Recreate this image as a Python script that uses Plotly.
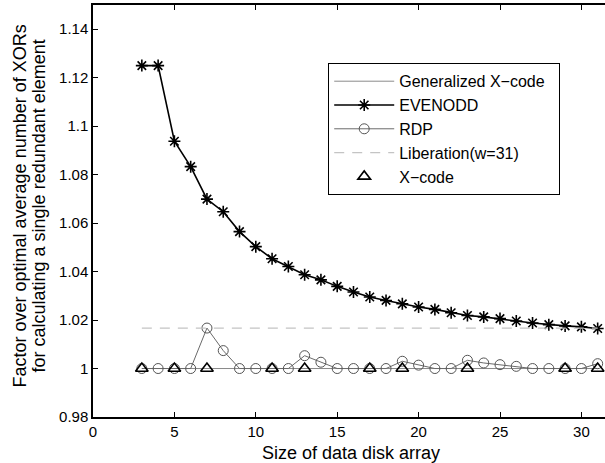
import plotly.graph_objects as go

x_sizes = list(range(3, 32))
evenodd = [1.125, 1.125, 1.0938, 1.0833, 1.0699, 1.0647, 1.0565, 1.0503, 1.0453,
           1.0421, 1.0387, 1.0366, 1.0339, 1.0316, 1.0295, 1.0281, 1.0267, 1.0254,
           1.0244, 1.0230, 1.0219, 1.0213, 1.0206, 1.0196, 1.0188, 1.0181, 1.0176,
           1.0172, 1.0165]
rdp = [1, 1, 1, 1, 1.0167, 1.0074, 1, 1, 1, 1, 1.0053, 1.0026, 1, 1, 1, 1,
       1.003, 1.0014, 1, 1, 1.0034, 1.0023, 1.0016, 1.0009, 1, 1, 1, 1, 1.002]
gen_xcode = [1.0] * len(x_sizes)
liberation = [1.0167] * len(x_sizes)
xcode_x = [3, 5, 7, 11, 13, 17, 19, 23, 29, 31]
xcode_y = [1, 1, 1, 1, 1, 1, 1, 1, 1, 1]

y_ticks = [0.98, 1.0, 1.02, 1.04, 1.06, 1.08, 1.1, 1.12, 1.14]
y_ticktext = ["0.98", "1", "1.02", "1.04", "1.06", "1.08", "1.1", "1.12", "1.14"]
x_ticks = [0, 5, 10, 15, 20, 25, 30]

FONT = "Liberation Sans, Arial, Helvetica, sans-serif"

fig = go.Figure()
fig.add_trace(go.Scatter(x=x_sizes, y=gen_xcode, mode="lines",
                         name="Generalized X\u2212code\u00a0\u00a0",
                         line=dict(color="#8a8a8a", width=1), legendgroup="a"))
fig.add_trace(go.Scatter(x=x_sizes, y=evenodd, mode="lines+markers", name="EVENODD",
                         line=dict(color="black", width=1.6),
                         marker=dict(symbol="asterisk-open", size=10, color="black",
                                     line=dict(color="black", width=1.6)), legendgroup="b"))
fig.add_trace(go.Scatter(x=x_sizes, y=rdp, mode="lines+markers", name="RDP",
                         line=dict(color="#6a6a6a", width=1),
                         marker=dict(symbol="circle-open", size=10, color="#555555",
                                     line=dict(color="#555555", width=1)), legendgroup="c"))
fig.add_trace(go.Scatter(x=x_sizes, y=liberation, mode="lines", name="Liberation(w=31)",
                         line=dict(color="#c4c4c4", width=1.2, dash="10px,8px"), legendgroup="d"))
fig.add_trace(go.Scatter(x=xcode_x, y=xcode_y, mode="markers", name="X\u2212code",
                         marker=dict(symbol="triangle-up-open", size=11, color="black",
                                     line=dict(color="black", width=1.6)), legendgroup="e"))

fig.update_layout(
    width=605, height=463,
    margin=dict(l=93, r=0, t=5, b=46, autoexpand=False),
    paper_bgcolor="white", plot_bgcolor="white",
    font=dict(family=FONT, color="black", size=14),
    showlegend=True,
    legend=dict(x=0.459, y=0.859, xanchor="left", yanchor="top",
                bgcolor="white", bordercolor="black", borderwidth=1.2,
                font=dict(size=16, family=FONT), tracegroupgap=0, itemwidth=60),
    xaxis=dict(range=[0, 31.45], tickvals=x_ticks, ticks="inside", ticklen=5,
               tickcolor="black", showline=True, linecolor="black", linewidth=1.5,
               mirror="ticks", showgrid=False, zeroline=False,
               tickfont=dict(size=15, family=FONT)),
    yaxis=dict(range=[0.98, 1.15], tickvals=y_ticks, ticktext=y_ticktext,
               ticks="inside", ticklen=5, tickcolor="black", showline=True,
               linecolor="black", linewidth=1.5, mirror=False, showgrid=False,
               zeroline=False, tickfont=dict(size=15, family=FONT)),
    annotations=[
        dict(text="Size of data disk array", xref="paper", yref="paper",
             x=0.504, y=0, yanchor="top", xanchor="center", yshift=-24,
             showarrow=False, font=dict(size=18, family=FONT)),
        dict(text="Factor over optimal average number of XORs", xref="paper", yref="paper",
             x=0, y=0.511, xanchor="center", yanchor="middle", xshift=-73, textangle=-90,
             showarrow=False, font=dict(size=18, family=FONT)),
        dict(text="for calculating a single redundant element", xref="paper", yref="paper",
             x=0, y=0.511, xanchor="center", yanchor="middle", xshift=-54, textangle=-90,
             showarrow=False, font=dict(size=18, family=FONT)),
    ],
)

fig.write_html("out.html", config={"displayModeBar": False},
               post_script="document.body.style.margin='0';")
